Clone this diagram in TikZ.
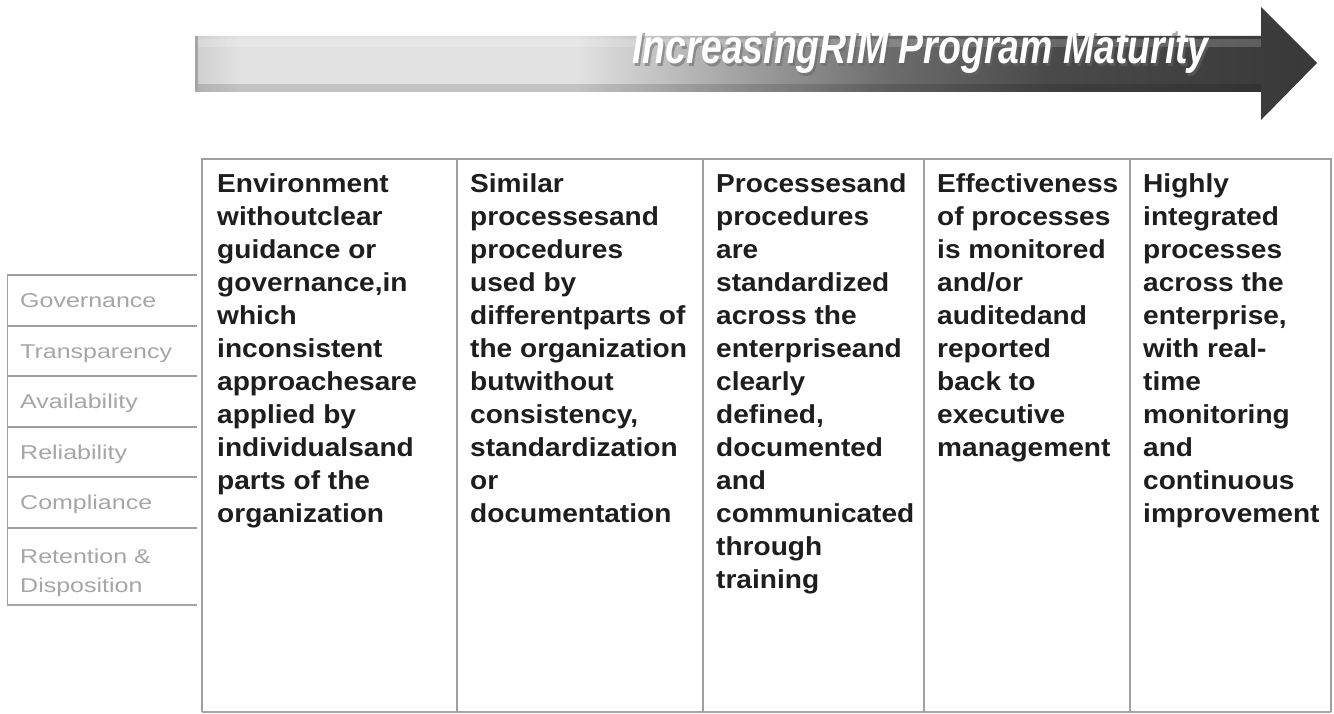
\documentclass[tikz,border=0pt]{standalone}
\usepackage{fontspec}
\setmainfont{Liberation Sans}
\newfontfamily\colfont{Liberation Sans}[FakeStretch=1.08]
\newfontfamily\lblfont{Liberation Sans}[FakeStretch=1.25]
\newfontfamily\arrfont{Liberation Sans}[FakeStretch=0.78]
\definecolor{shA}{HTML}{CFCFCF}
\definecolor{shB}{HTML}{E2E2E2}
\definecolor{shC}{HTML}{A0A0A0}
\definecolor{shD}{HTML}{6C6C6C}
\definecolor{shE}{HTML}{4A4A4A}
\definecolor{shF}{HTML}{383838}
\definecolor{lblgray}{HTML}{A6A6A6}
\definecolor{linegray}{HTML}{A0A0A0}
\definecolor{txt}{HTML}{1E1E1E}
\pgfdeclarehorizontalshading{arrowshade}{100bp}{color(0bp)=(shA); color(25bp)=(shA); color(27bp)=(shB); color(42bp)=(shB); color(49.5bp)=(shC); color(56bp)=(shD); color(63bp)=(shE); color(75bp)=(shF); color(100bp)=(shF)}
\tikzset{
  coltext/.style={anchor=north west, inner sep=0pt, align=left, text=txt,
    font={\colfont\bfseries\fontsize{26}{33}\selectfont}},
  lbl/.style={anchor=base west, inner sep=0pt, align=left, text=lblgray,
    font={\lblfont\fontsize{20}{29}\selectfont}},
  tline/.style={draw=linegray, line width=1.1pt},
  boxline/.style={draw=gray!75, line width=1.3pt},
  arrtext/.style={anchor=base east, inner sep=0pt,
    font={\arrfont\bfseries\itshape\fontsize{48}{50}\selectfont}}
}
\begin{document}
\begin{tikzpicture}[x=1pt,y=-1pt]
\useasboundingbox (0,0) rectangle (1334,714);
\fill[white] (0,0) rectangle (1334,714);
% arrow
\path[shading=arrowshade] (195,36) -- (1261,36) -- (1261,7) -- (1317,63) -- (1261,120) -- (1261,92) -- (195,92) -- cycle;
\fill[white, opacity=0.18] (198,39) rectangle (1261,47);
\fill[black, opacity=0.14] (195,84) rectangle (1261,92);
\draw[gray!70, line width=3pt] (196.5,36) -- (196.5,92);
\node[arrtext, text=black!60, opacity=0.55] (titleshadow) at (1211,66.5) {IncreasingRIM Program Maturity};
\node[arrtext, text=white] (title) at (1209,64) {IncreasingRIM Program Maturity};
% table
\draw[tline] (202,712) -- (202,159) -- (1331,159) -- (1331,712);
\draw[draw=gray!70, line width=2.2pt] (202,712) -- (1331,712);
\foreach \x in {457,703,924,1130} \draw[tline] (\x,159) -- (\x,712);
% left box
\draw[draw=linegray, line width=1.1pt] (7.5,275) -- (7.5,605);
\foreach \y in {275,326,376,427,477,528} \draw[boxline] (7,\y) -- (197,\y);
\draw[draw=gray!70, line width=2pt] (7,605) -- (197,605);
\node[lbl] (gov) at (20,307.5) {Governance};
\node[lbl] (tra) at (20,358) {Transparency};
\node[lbl] (ava) at (20,408.5) {Availability};
\node[lbl] (rel) at (20,459) {Reliability};
\node[lbl] (com) at (20,509.5) {Compliance};
\node[lbl] (ret) at (20,592) {Retention \&\\Disposition};
% columns
\node[coltext] (c1) at (217,169) {\strut Environment\\withoutclear\\guidance or\\governance,in\\which\\inconsistent\\approachesare\\applied by\\individualsand\\parts of the\\organization};
\node[coltext] (c2) at (470,169) {\strut Similar\\processesand\\procedures\\used by\\differentparts of\\the organization\\butwithout\\consistency,\\standardization\\or\\documentation};
\node[coltext] (c3) at (716,169) {\strut Processesand\\procedures\\are\\standardized\\across the\\enterpriseand\\clearly\\defined,\\documented\\and\\communicated\\through\\training};
\node[coltext] (c4) at (937,169) {\strut Effectiveness\\of processes\\is monitored\\and/or\\auditedand\\reported\\back to\\executive\\management};
\node[coltext] (c5) at (1143,169) {\strut Highly\\integrated\\processes\\across the\\enterprise,\\with real-\\time\\monitoring\\and\\continuous\\improvement};
\end{tikzpicture}
\end{document}
